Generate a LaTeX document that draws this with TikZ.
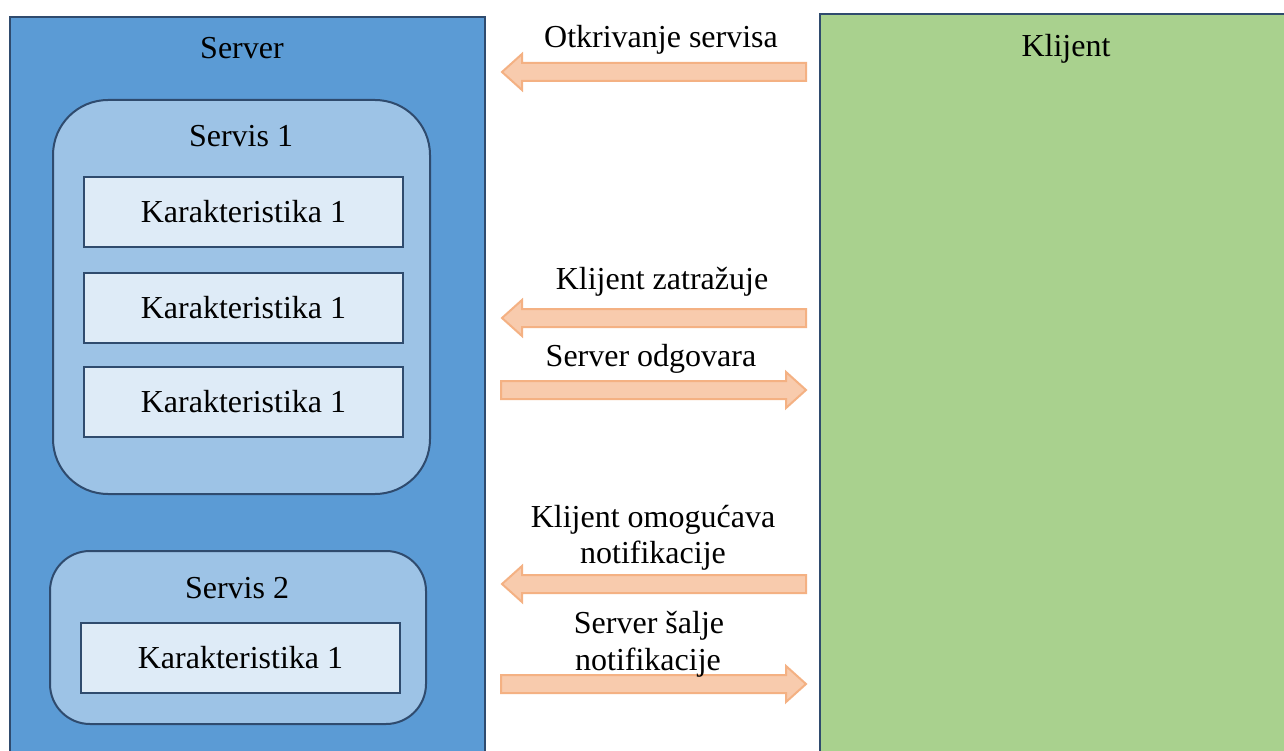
\documentclass[tikz,border=0pt]{standalone}
\usepackage{fontspec}
\setmainfont{Liberation Serif}
\begin{document}
\begin{tikzpicture}[x=1pt,y=-1pt,
  every node/.style={font=\fontsize{32}{36}\selectfont, inner sep=0pt},
  lbl/.style={anchor=base},
  outer/.style={draw=edge, line width=2pt},
  svc/.style={draw=edge, line width=2pt, fill=svcfill},
  feat/.style={draw=edge, line width=2pt, fill=featfill},
  barrow/.style={draw=arrline, fill=arrfill, line width=2pt, line join=miter}
]
\definecolor{edge}{HTML}{2F4B6E}
\definecolor{srvfill}{HTML}{5B9BD5}
\definecolor{klfill}{HTML}{A9D18E}
\definecolor{svcfill}{HTML}{9DC3E6}
\definecolor{featfill}{HTML}{DEEBF7}
\definecolor{arrfill}{HTML}{F8CBAD}
\definecolor{arrline}{HTML}{F4B183}
\useasboundingbox (0,0) rectangle (1284,751);
\fill[white] (0,0) rectangle (1284,751);
% Server and client panels
\draw[outer, fill=srvfill] (10,17) rectangle (485,770);
\draw[outer, fill=klfill] (820,14) rectangle (1300,770);
\node[lbl] (server) at (242,59) {Server};
\node[lbl] (klijent) at (1066,57) {Klijent};
% Servis 1
\draw[svc, rounded corners=55pt] (53,100) rectangle (430,494);
\node[lbl] (s1) at (241,147) {Servis 1};
\node[feat, minimum width=319pt, minimum height=70pt] (k11) at (243.5,212) {Karakteristika 1};
\node[feat, minimum width=319pt, minimum height=70pt] (k12) at (243.5,308) {Karakteristika 1};
\node[feat, minimum width=319pt, minimum height=70pt] (k13) at (243.5,402) {Karakteristika 1};
% Servis 2
\draw[svc, rounded corners=40pt] (50,551) rectangle (426,724);
\node[lbl] (s2) at (237,598) {Servis 2};
\node[feat, minimum width=319pt, minimum height=70pt] (k21) at (240.5,658) {Karakteristika 1};
% Arrows (left pointing)
\foreach \yy in {72,318,584}{
  \draw[barrow] (806,\yy-9) -- (522,\yy-9) -- (522,\yy-18) -- (502,\yy) -- (522,\yy+18) -- (522,\yy+9) -- (806,\yy+9) -- cycle;
}
% Arrows (right pointing)
\foreach \yy in {390,684}{
  \draw[barrow] (501,\yy-9) -- (786,\yy-9) -- (786,\yy-18) -- (806,\yy) -- (786,\yy+18) -- (786,\yy+9) -- (501,\yy+9) -- cycle;
}
% Labels
\node[lbl] (l1) at (661,48) {Otkrivanje servisa};
\node[lbl] (l2) at (662,289) {Klijent zatražuje};
\node[lbl] (l3) at (651,366) {Server odgovara};
\node[lbl] (l4a) at (653,527) {Klijent omogućava};
\node[lbl] (l4b) at (653,563) {notifikacije};
\node[lbl] (l5a) at (649,633) {Server šalje};
\node[lbl] (l5b) at (648,670) {notifikacije};
\end{tikzpicture}
\end{document}
